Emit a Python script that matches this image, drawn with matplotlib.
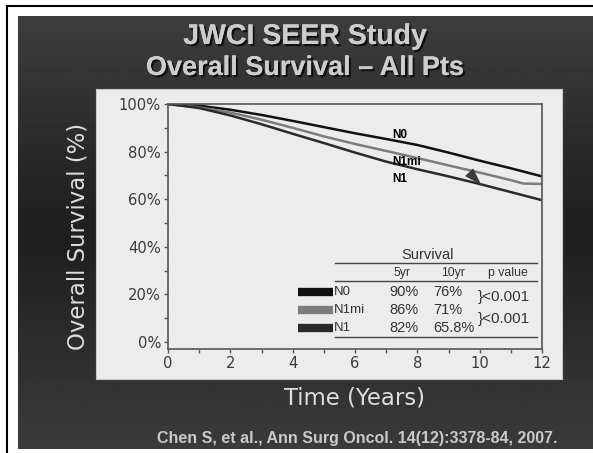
import matplotlib
matplotlib.use("Agg")
import matplotlib.pyplot as plt
import matplotlib.patheffects as pe
import numpy as np
from matplotlib.ticker import FuncFormatter, MultipleLocator

# survival curves (years, % alive)
years = [0, 1, 2, 3, 4, 5, 6, 7, 8, 9, 10, 11, 12]
surv_n0 = [100, 99.3, 97.6, 95.4, 92.9, 90.3, 87.7, 85.3, 82.8, 79.6, 76.2, 73.0, 69.6]
surv_n1 = [100, 98.3, 95.2, 91.5, 87.5, 83.6, 79.6, 75.8, 72.6, 69.6, 66.4, 63.0, 59.6]
years_n1mi = [0, 1, 2, 3, 4, 5, 6, 7, 8, 9, 10, 11, 11.4, 12]
surv_n1mi = [100, 98.6, 96.4, 93.4, 90.0, 86.4, 83.2, 80.3, 77.3, 74.2, 71.2, 68.0, 66.6, 66.4]

groups = ["N0", "N1mi", "N1"]
group_colors = ["#111111", "#7c7c7c", "#2a2a2a"]
five_yr = ["90%", "86%", "82%"]
ten_yr = ["76%", "71%", "65.8%"]
p_values = ["<0.001", "<0.001"]

W, H = 593, 453
fig = plt.figure(figsize=(W / 100, H / 100), dpi=100, facecolor="white")


def fx(px):
    return px / W


def fy(py):
    return 1 - py / H


# frame lines of the scanned page
fig.add_artist(plt.Line2D([fx(7), 1], [fy(6), fy(6)], color="black", lw=1.5))
fig.add_artist(plt.Line2D([fx(7), fx(7)], [fy(6), 0], color="black", lw=1.5))

# dark slide background with a darker band through the middle
bg = fig.add_axes([fx(18), fy(449), 1 - fx(18), fy(16) - fy(449)])
bg.set_zorder(0)
grad = np.interp(np.linspace(0, 1, 200), [0, 0.45, 0.55, 1], [0.24, 0.13, 0.13, 0.23])
bg.imshow(grad[:, None], aspect="auto", cmap="gray", vmin=0, vmax=1, extent=[0, 1, 0, 1])
bg.axis("off")

# light plot panel
panel = fig.add_axes([fx(96), fy(379), fx(562) - fx(96), fy(89) - fy(379)])
panel.set_zorder(1)
panel.set_facecolor("#ececec")
panel.set_xticks([])
panel.set_yticks([])
for s in panel.spines.values():
    s.set_color("#c8c8c8")

shadow = [pe.withSimplePatchShadow(offset=(1.5, -1.5), shadow_rgbFace="black", alpha=0.7), pe.Normal()]
fig.text(fx(305), fy(37), "JWCI SEER Study", ha="center", va="center", color="#cdcdcd",
         fontsize=20.5, fontweight="bold", family="Liberation Sans", path_effects=shadow)
fig.text(fx(305), fy(68), "Overall Survival \u2013 All Pts", ha="center", va="center",
         color="#cdcdcd", fontsize=19.5, fontweight="bold", family="Liberation Sans",
         path_effects=shadow)
fig.text(fx(78), fy(236), "Overall Survival (%)", rotation=90, ha="center", va="center",
         color="#dedede", fontsize=16.4)
fig.text(fx(355), fy(398), "Time (Years)", ha="center", va="center", color="#dedede",
         fontsize=16.4)
fig.text(fx(357), fy(439), "Chen S, et al., Ann Surg Oncol. 14(12):3378-84, 2007.",
         ha="center", va="center", color="#cacaca", fontsize=11.5, fontweight="bold",
         family="Liberation Sans")

ax = fig.add_axes([fx(168), fy(349), fx(542) - fx(168), fy(104) - fy(349)])
ax.set_zorder(2)
ax.set_facecolor("#ececec")
ax.plot(years, surv_n0, color=group_colors[0], lw=1.8)
ax.plot(years_n1mi, surv_n1mi, color=group_colors[1], lw=1.8)
ax.plot(years, surv_n1, color=group_colors[2], lw=1.8)

ax.set_xlim(0, 12)
ax.set_ylim(-2.9, 100)
ax.xaxis.set_major_locator(MultipleLocator(2))
ax.xaxis.set_minor_locator(MultipleLocator(1))
ax.yaxis.set_major_locator(MultipleLocator(20))
ax.yaxis.set_minor_locator(MultipleLocator(10))
ax.yaxis.set_major_formatter(FuncFormatter(lambda v, _: f"{v:.0f}%"))
ax.tick_params(which="both", direction="out", length=3, width=1, color="#555555",
               labelcolor="#3a3a3a", labelsize=10.6, pad=2)
for s in ax.spines.values():
    s.set_color("#555555")
    s.set_linewidth(1.2)

# curve labels
lab_y = [87.0, 75.8, 68.4]
for name, yv in zip(groups, lab_y):
    ax.text(7.21, yv, name, ha="left", va="center", fontsize=8.5, fontweight="bold",
            family="Liberation Sans", color="black")

# slide pointer
ax.annotate("", xy=(10.12, 65.0), xytext=(9.6, 72.2),
            arrowprops=dict(arrowstyle="wedge,tail_width=0.8", color="#3c3c3c", lw=0))

# survival table
tcol = "#333333"
ax.text(8.34, 36.6, "Survival", ha="center", va="center", fontsize=10.5, color=tcol,
        family="Liberation Sans")
ax.plot([5.36, 11.84], [33.2, 33.2], color="#444444", lw=1)
for xv, txt in zip([7.5, 9.14, 10.9], ["5yr", "10yr", "p value"]):
    ax.text(xv, 29.0, txt, ha="center", va="center", fontsize=8.8, color=tcol,
            family="Liberation Sans")
ax.plot([5.36, 11.84], [25.6, 25.6], color="#444444", lw=1)
ax.plot([5.36, 11.84], [2.1, 2.1], color="#444444", lw=1)

row_y = [21.0, 13.4, 5.9]
for name, c, y5, y10, yv in zip(groups, group_colors, five_yr, ten_yr, row_y):
    ax.plot([4.17, 5.3], [yv, yv], color=c, lw=6, solid_capstyle="butt")
    ax.text(5.33, yv, name, ha="left", va="center", fontsize=9.5, color=tcol,
            family="Liberation Sans")
    ax.text(7.09, yv, y5, ha="left", va="center", fontsize=10.5, color=tcol,
            family="Liberation Sans")
    ax.text(8.5, yv, y10, ha="left", va="center", fontsize=10.5, color=tcol,
            family="Liberation Sans")
for pv, yv in zip(p_values, [18.9, 9.7]):
    ax.text(9.95, yv, "}" + pv, ha="left", va="center", fontsize=11, color=tcol,
            family="Liberation Sans")

fig.savefig("out.png", dpi=100, facecolor="white")
